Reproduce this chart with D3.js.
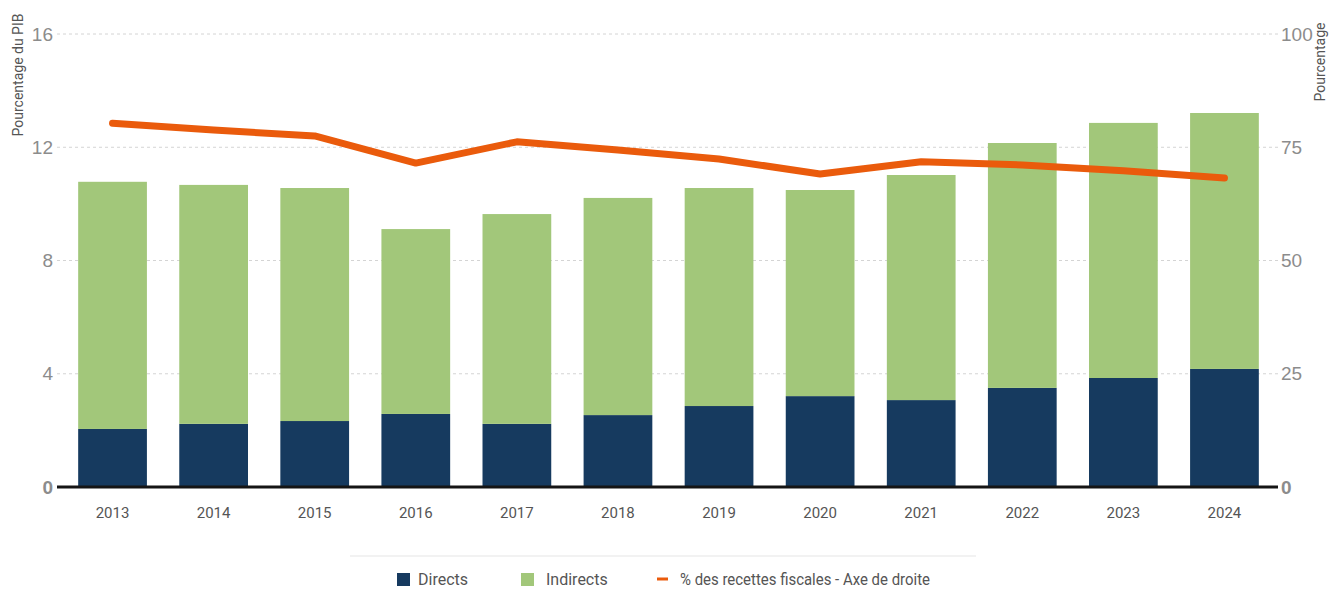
<!DOCTYPE html>
<html>
<head>
<meta charset="utf-8">
<script src="https://cdn.jsdelivr.net/npm/d3@7"></script>
<style>
  html, body { margin: 0; padding: 0; background: #fff; }
  svg { display: block; font-family: "Roboto", "Liberation Sans", sans-serif; }
</style>
</head>
<body>
<svg id="chart" width="1330" height="594"></svg>
<script>
// Recettes fiscales : impôts directs et indirects (% du PIB) et part dans les recettes fiscales
const years = ["2013","2014","2015","2016","2017","2018","2019","2020","2021","2022","2023","2024"];
const directs   = [2.05, 2.23, 2.33, 2.58, 2.23, 2.54, 2.86, 3.21, 3.07, 3.50, 3.85, 4.17];
const indirects = [8.73, 8.44, 8.23, 6.53, 7.41, 7.67, 7.70, 7.28, 7.95, 8.65, 9.01, 9.04];
const partRecettes = [80.3, 78.8, 77.5, 71.5, 76.2, 74.4, 72.4, 69.1, 71.8, 71.1, 69.8, 68.2];
const leftTicks  = [0, 4, 8, 12, 16];
const rightTicks = [0, 25, 50, 75, 100];
const legendLabels = ["Directs", "Indirects", "% des recettes fiscales - Axe de droite"];

const colDirect = "#163a5f", colIndirect = "#a2c77a", colLine = "#ea5b0c";

const svg = d3.select("#chart");
const plot = { left: 57, right: 1278, top: 34, bottom: 487 };

const x = d3.scaleBand().domain(years).range([62, 1275]).paddingInner(0.32).paddingOuter(0.16);
const yL = d3.scaleLinear().domain([0, 16]).range([plot.bottom, plot.top]);
const yR = d3.scaleLinear().domain([0, 100]).range([plot.bottom, plot.top]);

// dashed gridlines
svg.append("g").selectAll("line").data(leftTicks.filter(d => d > 0)).join("line")
  .attr("x1", plot.left).attr("x2", plot.right)
  .attr("y1", d => yL(d)).attr("y2", d => yL(d))
  .attr("stroke", "#d4d4d4").attr("stroke-width", 1).attr("stroke-dasharray", "3,3");

// left axis
const axL = svg.append("g").attr("transform", `translate(${plot.left - 4},0)`)
  .call(d3.axisLeft(yL).tickValues(leftTicks).tickSize(0).tickPadding(0));
axL.select(".domain").remove();
axL.selectAll("text").attr("fill", "#8c8c8c").style("font-size", "19px")
  .attr("font-weight", d => d === 0 ? "bold" : null);

// right axis
const axR = svg.append("g").attr("transform", `translate(${plot.right + 3},0)`)
  .call(d3.axisRight(yR).tickValues(rightTicks).tickSize(0).tickPadding(0));
axR.select(".domain").remove();
axR.selectAll("text").attr("fill", "#8c8c8c").style("font-size", "19px")
  .attr("font-weight", d => d === 0 ? "bold" : null);

// axis titles
svg.append("text").attr("transform", "translate(23,75) rotate(-90)")
  .attr("text-anchor", "middle").attr("fill", "#555").style("font-size", "14px")
  .text("Pourcentage du PIB");
svg.append("text").attr("transform", `translate(1325,${plot.top + 28}) rotate(-90)`)
  .attr("text-anchor", "middle").attr("fill", "#555").style("font-size", "14px")
  .text("Pourcentage");

// stacked bars
const stacked = d3.stack().keys(["d", "i"])(years.map((y, k) => ({ year: y, d: directs[k], i: indirects[k] })));
const colors = [colDirect, colIndirect];
svg.append("g").selectAll("g").data(stacked).join("g")
  .attr("fill", (s, k) => colors[k])
  .selectAll("rect").data(s => s).join("rect")
  .attr("x", d => x(d.data.year)).attr("width", x.bandwidth())
  .attr("y", d => yL(d[1])).attr("height", d => yL(d[0]) - yL(d[1]));

// baseline
svg.append("line").attr("x1", plot.left).attr("x2", plot.right)
  .attr("y1", plot.bottom).attr("y2", plot.bottom)
  .attr("stroke", "#151515").attr("stroke-width", 3);

// x axis labels
svg.append("g").selectAll("text").data(years).join("text")
  .attr("x", d => x(d) + x.bandwidth() / 2).attr("y", 518)
  .attr("text-anchor", "middle").attr("fill", "#555").style("font-size", "15px")
  .text(d => d);

// share of tax revenue line (right axis)
const line = d3.line().x((d, k) => x(years[k]) + x.bandwidth() / 2).y(d => yR(d));
svg.append("path").datum(partRecettes).attr("d", line)
  .attr("fill", "none").attr("stroke", colLine).attr("stroke-width", 7)
  .attr("stroke-linecap", "round").attr("stroke-linejoin", "round");

// legend
svg.append("line").attr("x1", 350).attr("x2", 976).attr("y1", 556).attr("y2", 556)
  .attr("stroke", "#eeeeee").attr("stroke-width", 1.5);
const lg = svg.append("g").style("font-size", "16px").attr("fill", "#555");
lg.append("rect").attr("x", 397).attr("y", 573).attr("width", 13).attr("height", 13).attr("fill", colDirect);
lg.append("text").attr("x", 418).attr("y", 585).text(legendLabels[0]);
lg.append("rect").attr("x", 521).attr("y", 573).attr("width", 13).attr("height", 13).attr("fill", colIndirect);
lg.append("text").attr("x", 546).attr("y", 585).text(legendLabels[1]);
lg.append("line").attr("x1", 657).attr("x2", 668).attr("y1", 579).attr("y2", 579)
  .attr("stroke", colLine).attr("stroke-width", 3);
lg.append("text").attr("x", 680).attr("y", 585)
  .attr("textLength", 250).attr("lengthAdjust", "spacingAndGlyphs").text(legendLabels[2]);
</script>
</body>
</html>
